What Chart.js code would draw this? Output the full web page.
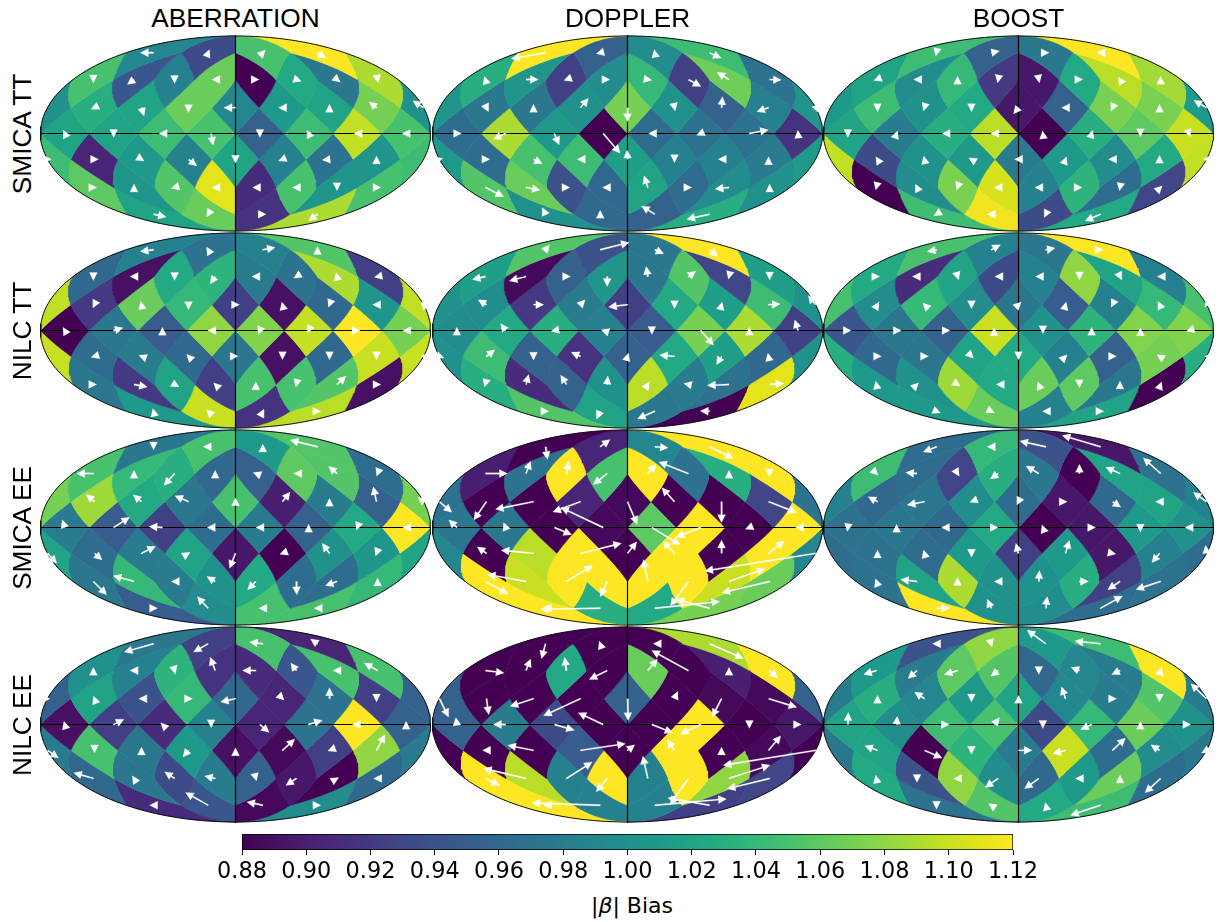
<!DOCTYPE html>
<html><head><meta charset="utf-8">
<script src="https://cdn.jsdelivr.net/npm/chart.js@4"></script>
<style>
html,body{margin:0;padding:0;background:#fff;width:1225px;height:922px;overflow:hidden}
canvas{position:absolute}
.t{position:absolute;font-family:"Liberation Sans",Arial,sans-serif;font-size:26.2px;color:#000;white-space:nowrap;transform:translate(-50%,-50%);line-height:1}
.r{transform:translate(-50%,-50%) rotate(-90deg)}
.c{font-family:"DejaVu Sans",sans-serif;font-size:22px}
</style></head><body>
<script>
const COLUMN_TITLES=["ABERRATION","DOPPLER","BOOST"];
const ROW_TITLES=["SMICA TT","NILC TT","SMICA EE","NILC EE"];
const COLORBAR_TICKS=[0.88,0.90,0.92,0.94,0.96,0.98,1.00,1.02,1.04,1.06,1.08,1.10,1.12];
const COLORBAR_LABEL="|β| Bias";

// Bias per HEALPix (nside 2) pixel, ring by ring, left to right: 4,8,8,8,8,8,4
const SMICA_TT_ABERRATION=[.99,.935,1.05,1.12,
1.05,.945,.985,1.065,.88,1.025,.975,1.09,
1.03,1.02,1.065,.99,1.01,1.02,1.07,1.0,
1.02,1.02,1.045,1.05,.955,1.045,1.097,1.05,
.905,1.01,.985,1.02,.985,.97,1.005,1.045,
1.06,1.005,1.055,1.11,.91,1.05,1.005,1.05,
1.02,1.065,.915,1.09];
const SMICA_TT_DOPPLER=[1.12,.955,.995,1.045,
1.03,1.005,.925,.995,1.04,.925,1.067,.97,
.975,.975,1.0,1.07,1.0,.955,.985,1.005,
.965,1.09,1.01,.88,.965,.97,.97,.915,
.965,1.05,1.045,1.015,.985,.985,.98,1.01,
1.055,1.065,.94,.96,1.02,.965,.995,1.0,
1.0,.96,.955,1.03];
const SMICA_TT_BOOST=[1.045,.955,.975,1.12,
1.02,.995,1.04,.92,.895,1.025,1.095,1.087,
1.045,1.0,1.025,.895,.955,1.072,1.072,1.01,
1.02,.98,1.03,1.095,.88,1.03,1.06,1.10,
.935,1.0,1.01,.98,1.01,.995,1.025,1.097,
.88,.995,1.072,1.105,.985,1.035,.965,.93,
1.045,1.115,.935,1.025];
const NILC_TT_ABERRATION=[.985,.97,.985,1.055,
.96,.89,1.025,1.035,.98,.97,1.09,.925,
.92,1.065,1.04,.925,.89,.96,1.005,1.097,
.88,.975,.95,1.08,1.075,1.098,1.12,1.07,
.965,.98,.96,.975,.89,.96,1.10,1.10,
.975,.92,1.02,.925,1.05,1.05,1.055,.89,
1.01,1.10,.915,1.095];
const NILC_TT_DOPPLER=[1.055,.94,.975,1.12,
1.015,.885,.955,1.005,.975,1.055,.93,1.015,
.995,.92,.98,.925,1.025,1.015,1.045,1.0,
.995,1.025,1.03,.985,.95,1.07,1.09,.925,
1.045,.955,.915,.955,1.025,1.015,.96,1.0,
1.03,.91,.955,1.0,1.095,.98,.97,1.11,
1.055,1.02,.975,.88];
const NILC_TT_BOOST=[1.05,.985,.975,1.12,
1.025,.91,1.02,.935,.985,1.08,1.02,.985,
.995,1.04,.995,.975,.95,.985,1.04,1.05,
.945,.975,.955,1.10,1.0,1.035,1.075,1.075,
.96,.975,1.02,1.025,.985,.955,1.07,1.03,
1.01,1.0,1.085,1.025,1.065,1.06,.975,.88,
1.01,1.065,.985,1.02];
const SMICA_EE_ABERRATION=[.975,1.05,1.01,1.055,
1.05,1.04,1.03,.96,.955,1.06,1.055,.965,
1.085,1.025,.975,1.05,.9,.98,.955,1.07,
.98,.95,.925,.965,.98,.955,1.025,1.12,
.965,.98,1.02,.895,.88,1.0,1.005,1.02,
.975,1.04,.98,1.0,1.025,.965,.965,1.04,
.95,.995,1.05,1.05];
const SMICA_EE_DOPPLER=[.88,.905,.99,1.12,
.9,.97,1.12,1.05,1.12,.97,1.03,1.12,
.88,.88,.905,.885,.88,.88,.93,.97,
.975,.975,.88,.885,1.06,1.12,.88,1.12,
.88,1.095,1.12,.88,1.12,.88,1.12,.99,
1.12,1.10,1.12,1.12,1.12,1.12,1.10,1.065,
1.12,1.03,1.025,1.07];
const SMICA_EE_BOOST=[.965,1.04,.94,.895,
1.045,.965,.93,1.03,.975,.88,1.02,.97,
.96,.975,.995,.965,.895,.96,1.02,.985,
.97,.975,.96,1.025,.88,.895,1.01,1.0,
.97,.965,1.01,.925,1.01,.895,.985,.965,
.97,1.02,1.09,1.0,1.0,1.03,.925,.97,
1.12,1.0,.995,.965];
const NILC_EE_ABERRATION=[.975,.925,1.05,.905,
1.0,.985,1.035,.915,.91,.945,1.05,1.05,
1.02,.94,1.04,.96,.905,.97,.925,.955,
.89,.925,.91,.985,.905,.97,1.12,.955,
1.05,.975,1.01,.89,.885,.925,1.08,.98,
.96,.975,.935,.98,.955,.895,.88,.96,
.91,.945,.885,.995];
const NILC_EE_DOPPLER=[.88,.88,.88,1.09,
.88,.88,1.025,.88,1.065,.88,.9,1.12,
.88,.88,.88,.955,.88,.885,.885,.955,
.955,.98,.935,.88,.88,1.12,.88,.895,
.88,.88,.95,.88,1.12,.88,.885,.88,
1.12,1.095,.985,1.12,.985,1.12,1.08,.93,
1.12,.985,.985,.925];
const NILC_EE_BOOST=[.94,1.08,1.01,1.045,
1.01,.98,1.06,1.055,.96,.99,.98,1.12,
1.03,.99,1.01,1.02,.99,.98,1.055,.98,
1.02,.995,1.045,1.05,.935,1.04,1.065,1.0,
1.02,.88,1.035,.98,1.10,.965,.995,.975,
1.025,.94,1.08,.995,.96,1.01,1.065,.965,
.97,1.055,1.025,1.045];

// Arrow vectors per pixel (right, down), same pixel order
const SMICA_TT_ABERRATION_ARROWS=[[-40,0],[4,-10],[8,-8],[25,17],
[0,10],[-20,15],[0,12],[-10,0],[10,0],[15,5],[10,8],[2,10],
[-10,5],[8,25],[0,15],[-35,0],[-12,0],[0,-10],[-22,-18],[-32,-21],
[-5,-10],[0,12],[-10,0],[6,35],[0,12],[-5,-10],[-10,0],[-12,0],
[12,0],[8,5],[25,20],[0,12],[-12,5],[-22,2],[0,-10],[12,0],
[10,0],[0,-10],[-10,3],[-10,0],[-10,0],[-12,0],[0,10],[10,0],
[38,8],[-5,8],[10,0],[-27,20]];
const SMICA_TT_DOPPLER_ARROWS=[[-103,18],[-12,3],[-2,-10],[35,16],
[-3,-10],[37,0],[-8,3],[8,0],[12,2],[38,21],[-36,-22],[35,1],
[6,12],[0,-10],[24,-28],[0,42],[2,10],[3,-33],[-35,12],[-12,-3],
[14,0],[-37,17],[14,34],[51,59],[-10,0],[-12,5],[57,-11],[-1,-10],
[10,0],[27,13],[-10,0],[-1,-28],[0,10],[-10,0],[0,-8],[10,-3],
[55,28],[42,8],[10,0],[-14,0],[-11,-35],[10,0],[-42,5],[0,-10],
[-10,-20],[0,-12],[-40,-25],[-68,15]];
const SMICA_TT_BOOST_ARROWS=[[-2,10],[25,-5],[10,0],[-10,0],
[-8,3],[-10,0],[0,-10],[-2,10],[2,10],[10,0],[-5,-8],[0,-10],
[0,12],[-3,10],[0,12],[-15,19],[-12,0],[-5,10],[0,-10],[-38,-22],
[0,12],[3,-8],[-10,0],[-10,0],[-1,-8],[3,-10],[0,10],[4,10],
[-5,-8],[-2,-10],[-8,-5],[-12,0],[3,-8],[-12,0],[0,-12],[-10,0],
[-2,8],[-5,-10],[-3,8],[-12,0],[-12,0],[8,0],[-2,10],[5,-5],
[-8,5],[-12,0],[-5,10],[-46,20]];
const NILC_TT_ABERRATION_ARROWS=[[-40,5],[-5,-8],[37,-7],[0,-10],
[0,12],[-12,0],[0,12],[-15,22],[-12,0],[-8,5],[-3,-12],[-10,2],
[-5,10],[-2,-10],[0,15],[12,0],[-2,-8],[-3,8],[-12,0],[-8,-8],
[-6,-10],[28,-8],[0,-10],[-10,0],[-5,12],[-4,8],[8,0],[-10,0],
[-10,3],[-8,-3],[-6,-6],[8,0],[0,10],[0,10],[0,10],[-8,0],
[10,0],[40,8],[14,8],[-5,-5],[0,-8],[-2,8],[27,-25],[10,0],
[-2,-8],[-5,-5],[3,-6],[10,0]];
const NILC_TT_DOPPLER_ARROWS=[[12,-15],[87,-22],[27,12],[25,20],
[-39,9],[-50,13],[12,0],[0,30],[-5,-30],[22,-16],[-2,8],[0,10],
[-25,-15],[31,0],[14,-15],[-57,7],[0,12],[2,-8],[35,-2],[-22,-28],
[0,-10],[-15,-21],[-10,2],[-6,-2],[0,12],[39,44],[0,-10],[-10,-32],
[25,-20],[0,12],[-28,-12],[3,-10],[-45,-4],[-15,25],[-2,-10],[14,5],
[-2,8],[8,-30],[-18,-28],[2,-25],[5,-8],[-14,-3],[-65,3],[43,-3],
[10,0],[-10,23],[-52,23],[-28,-1]];
const NILC_TT_BOOST_ARROWS=[[-28,6],[28,-15],[28,-5],[8,0],
[10,0],[-14,0],[3,10],[-10,0],[-10,0],[0,10],[5,10],[-10,0],
[5,-8],[-5,-5],[0,12],[8,-8],[2,-8],[-4,8],[-5,-10],[-5,8],
[10,0],[14,0],[14,0],[0,-8],[0,10],[0,-10],[0,-8],[-8,3],
[12,0],[12,0],[6,6],[0,10],[5,-5],[12,0],[-8,-5],[-5,0],
[-2,-10],[5,-5],[8,5],[-6,0],[-3,-8],[0,10],[0,-10],[3,-8],
[12,5],[10,5],[-10,0],[10,0]];
const SMICA_EE_ABERRATION_ARROWS=[[0,10],[-15,0],[0,-8],[-82,-20],
[-50,0],[0,-10],[-32,36],[0,-10],[-8,-3],[-8,0],[-25,-22],[-3,8],
[-25,-22],[-25,-21],[-41,-18],[0,-12],[23,-29],[0,-10],[-10,-45],[-17,-13],
[-8,-23],[48,-31],[-40,-3],[-12,0],[-12,0],[0,-10],[-3,8],[-10,0],
[23,20],[42,-21],[5,-3],[-18,45],[-8,3],[-22,-30],[-3,8],[28,30],
[40,40],[-62,-17],[-10,0],[-25,-15],[-25,25],[1,40],[-35,13],[0,-10],
[12,0],[-33,-35],[-12,0],[-10,0]];
const SMICA_EE_DOPPLER_ARROWS=[[6,38],[30,-22],[40,3],[72,35],
[66,0],[14,-37],[6,-37],[-42,33],[25,-28],[-89,-35],[0,-10],[0,10],
[-38,55],[-114,23],[-83,31],[29,68],[-38,-42],[0,63],[85,33],[37,32],
[-24,-23],[-6,-15],[52,22],[-127,-60],[85,52],[-74,29],[-12,5],[-8,0],
[-28,-20],[-97,-9],[123,-30],[28,-35],[-35,-37],[0,-40],[47,-37],[-332,53],
[68,38],[-116,-21],[78,-48],[-21,46],[-13,-66],[-54,74],[108,-38],[-143,34],
[-6,0],[-179,3],[195,-20],[-100,-27]];
const SMICA_EE_BOOST_ARROWS=[[-40,16],[-12,0],[-78,-17],[-115,-34],
[5,5],[-34,-3],[5,8],[-24,16],[-38,-23],[0,-28],[-43,-19],[-52,-47],
[-28,-15],[-52,10],[-5,2],[-5,10],[5,0],[25,17],[-12,0],[-40,-28],
[-2,12],[0,-10],[-12,0],[12,0],[-3,-8],[12,0],[0,14],[-12,0],
[0,-10],[-3,-10],[0,12],[-8,-30],[12,-39],[10,2],[-23,28],[-3,-24],
[-3,-8],[-49,-6],[0,-12],[-12,0],[2,-33],[27,0],[-37,25],[-74,24],
[40,-1],[-12,-27],[4,-35],[66,-37]];
const NILC_EE_ABERRATION_ARROWS=[[-88,25],[-44,25],[-40,-5],[-21,-14],
[0,-10],[-12,0],[3,10],[-15,-40],[-40,0],[-17,-23],[-12,0],[-40,-23],
[-3,-8],[-8,0],[12,0],[-45,10],[5,5],[0,-33],[0,10],[8,0],
[-3,-10],[31,-16],[-5,-5],[0,10],[28,24],[41,-13],[-15,0],[0,-10],
[0,8],[0,-10],[-17,20],[0,-8],[37,-34],[-5,2],[25,-47],[33,23],
[-59,-17],[-5,-8],[-30,-20],[-32,-7],[2,8],[-32,21],[5,-3],[-12,0],
[-12,0],[-68,-38],[-48,-10],[10,0]];
const NILC_EE_DOPPLER_ARROWS=[[-12,45],[-3,-8],[-5,0],[102,44],
[56,7],[14,-35],[-6,-40],[-54,27],[29,-35],[-110,-60],[0,-10],[24,22],
[7,48],[-70,23],[-111,51],[2,66],[10,-22],[-28,55],[85,26],[27,55],
[-3,-21],[-37,0],[60,17],[-75,-35],[63,25],[-61,29],[0,12],[10,0],
[-12,0],[-77,-15],[135,-20],[22,-17],[-22,-32],[0,-10],[37,-44],[-277,45],
[43,21],[-127,-30],[77,-49],[-33,40],[-15,-67],[-55,78],[123,-40],[-127,31],
[-6,0],[-205,-7],[215,-19],[-125,-22]];
const NILC_EE_BOOST_ARROWS=[[-12,0],[3,10],[-56,-41],[-77,-8],
[-38,12],[-27,24],[-40,12],[-22,17],[0,12],[-25,-10],[-25,12],[3,-10],
[0,-10],[-30,-20],[0,10],[0,-10],[-12,-36],[12,0],[0,10],[-47,-45],
[1,-36],[2,-25],[12,0],[16,-21],[0,12],[-33,15],[0,-10],[5,0],
[-38,-14],[53,23],[0,12],[41,0],[-38,10],[39,-37],[-26,-17],[-15,8],
[-2,-10],[0,12],[-12,0],[-39,27],[-43,31],[-12,0],[0,-10],[-47,43],
[0,12],[-8,-5],[-2,-8],[-90,30]];

const PANELS=[
[SMICA_TT_ABERRATION,SMICA_TT_ABERRATION_ARROWS],[SMICA_TT_DOPPLER,SMICA_TT_DOPPLER_ARROWS],[SMICA_TT_BOOST,SMICA_TT_BOOST_ARROWS],
[NILC_TT_ABERRATION,NILC_TT_ABERRATION_ARROWS],[NILC_TT_DOPPLER,NILC_TT_DOPPLER_ARROWS],[NILC_TT_BOOST,NILC_TT_BOOST_ARROWS],
[SMICA_EE_ABERRATION,SMICA_EE_ABERRATION_ARROWS],[SMICA_EE_DOPPLER,SMICA_EE_DOPPLER_ARROWS],[SMICA_EE_BOOST,SMICA_EE_BOOST_ARROWS],
[NILC_EE_ABERRATION,NILC_EE_ABERRATION_ARROWS],[NILC_EE_DOPPLER,NILC_EE_DOPPLER_ARROWS],[NILC_EE_BOOST,NILC_EE_BOOST_ARROWS]];

const VIRIDIS=["#440154","#471365","#482475","#463480","#414487","#3b528b","#355f8d","#2f6c8e","#2a788e","#25848e","#21918c","#1e9c89","#22a884","#2fb47c","#44bf70","#5ec962","#7ad151","#9bd93c","#bddf26","#dfe318","#fde725"];
const VMIN=0.88,VMAX=1.12;
function hex(c){return [1,3,5].map(i=>parseInt(c.substr(i,2),16));}
function cmap(v){
  let t=(v-VMIN)/(VMAX-VMIN); t=Math.max(0,Math.min(1,t))*(VIRIDIS.length-1);
  const i=Math.min(Math.floor(t),VIRIDIS.length-2),f=t-i,a=hex(VIRIDIS[i]),b=hex(VIRIDIS[i+1]);
  return `rgb(${a.map((x,k)=>Math.round(x+(b[k]-x)*f)).join(",")})`;
}

// HEALPix plane -> Mollweide
const PI=Math.PI,D=PI/8,S2=Math.SQRT2;
function mollweide(lon,z){
  let th;
  if(Math.abs(z)>=1) th=Math.sign(z)*PI/2;
  else{ th=Math.asin(z); const k=PI*z;
    for(let i=0;i<60;i++){const f=2*th+Math.sin(2*th)-k,d=2+2*Math.cos(2*th); if(Math.abs(d)<1e-9)break; th-=f/d; if(Math.abs(f)<1e-10)break;}
  }
  return {x:2*S2/PI*lon*Math.cos(th),y:S2*Math.sin(th)};
}
function planeToMap(x,y,xc){
  if(Math.abs(y)<=PI/4) return mollweide(x,8*y/(3*PI));
  const s=2-4*Math.abs(y)/PI;
  const lon=s<1e-9?xc:xc+(x-xc)/s;
  return mollweide(lon,Math.sign(y)*(1-s*s/3));
}
function facet(cx){return -PI+PI/4+Math.floor((cx+PI)/(PI/2))*(PI/2);}
function trace(verts,xc){
  const out=[],n=14;
  for(let i=0;i<verts.length;i++){
    const a=verts[i],b=verts[(i+1)%verts.length];
    for(let k=0;k<n;k++){const f=k/n;out.push(planeToMap(a[0]+(b[0]-a[0])*f,a[1]+(b[1]-a[1])*f,xc));}
  }
  out.push(out[0]);
  return out;
}
function layoutPixels(){
  const px=[];
  const rings=[[3,[-3,-1,1,3].map(k=>k*PI/4)],
    [2,[-7,-5,-3,-1,1,3,5,7].map(k=>k*PI/8)],
    [1,[-3,-2,-1,0,1,2,3,4].map(k=>k*PI/4)],
    [0,[-7,-5,-3,-1,1,3,5,7].map(k=>k*PI/8)],
    [-1,[-3,-2,-1,0,1,2,3,4].map(k=>k*PI/4)],
    [-2,[-7,-5,-3,-1,1,3,5,7].map(k=>k*PI/8)],
    [-3,[-3,-1,1,3].map(k=>k*PI/4)]];
  for(const [r,xs] of rings) for(const cx of xs) px.push({cx,cy:r*D});
  return px;
}
const PIXELS=layoutPixels();
function cellPolys(p){
  const {cx,cy}=p;
  if(Math.abs(cx-PI)<1e-9){
    return [[[PI,cy+D],[PI,cy-D],[PI-D,cy]],[[-PI,cy+D],[-PI+D,cy],[-PI,cy-D]]].map(v=>trace(v,0));
  }
  return [trace([[cx,cy+D],[cx+D,cy],[cx,cy-D],[cx-D,cy]],facet(cx))];
}
const RX=195,RY=97.5,CW=198,CH=100;
const DPP=S2/RY;               // data units per screen pixel
const VEC=DPP/3;               // arrow vector unit
const HEAD=8*DPP,HW=4*DPP,SW=0.7*DPP;
function arrowPoly(p,a){
  let t;
  if(Math.abs(p.cx-PI)<1e-9) t=planeToMap(a[0]>=0?-PI:PI,p.cy,0);
  else t=planeToMap(p.cx,p.cy,facet(p.cx));
  const dx=a[0]*VEC,dy=-a[1]*VEC,L=Math.hypot(dx,dy)||1,ux=dx/L,uy=dy/L,nx=-uy,ny=ux;
  const tip={x:t.x+dx,y:t.y+dy},bx=tip.x-ux*HEAD,by=tip.y-uy*HEAD;
  const o=(x,y,s)=>({x:x+nx*s,y:y+ny*s});
  if(L<=HEAD) return [o(bx,by,HW),tip,o(bx,by,-HW),o(bx,by,HW)];
  return [o(t.x,t.y,SW),o(bx,by,SW),o(bx,by,HW),tip,o(bx,by,-HW),o(bx,by,-SW),o(t.x,t.y,-SW),o(t.x,t.y,SW)];
}
const ellipseClip={id:'ellipseClip',
  beforeDatasetsDraw(c){const x=c.scales.x,y=c.scales.y,g=c.ctx;g.save();g.beginPath();
    g.ellipse(x.getPixelForValue(0),y.getPixelForValue(0),RX+1.5,RY+1.5,0,0,2*PI);g.clip();},
  afterDatasetsDraw(c){c.ctx.restore();}};
const COLX=[235,627,1018],ROWY=[133,330,527,724];
const outline=[];for(let i=0;i<=180;i++){const a=i/180*2*PI;outline.push({x:2*S2*Math.cos(a),y:S2*Math.sin(a)});}

PANELS.forEach(([vals,arrows],idx)=>{
  const cv=document.createElement('canvas');
  cv.width=CW*2;cv.height=CH*2;
  cv.style.left=(COLX[idx%3]-CW)+'px';cv.style.top=(ROWY[Math.floor(idx/3)]-CH)+'px';
  document.body.appendChild(cv);
  const ds=[];
  PIXELS.forEach((p,i)=>{
    const col=cmap(vals[i]);
    cellPolys(p).forEach(poly=>ds.push({data:poly,borderColor:col,backgroundColor:col,borderWidth:0.6,fill:'shape',pointRadius:0,tension:0,order:4}));
  });
  ds.push({data:outline,borderColor:'#111',borderWidth:1,fill:false,pointRadius:0,order:3});
  ds.push({data:[{x:-2*S2,y:0},{x:2*S2,y:0}],borderColor:'#000',borderWidth:1.2,fill:false,pointRadius:0,order:2});
  ds.push({data:[{x:0,y:-S2-DPP},{x:0,y:S2+DPP}],borderColor:'#000',borderWidth:1.2,fill:false,pointRadius:0,order:2});
  PIXELS.forEach((p,i)=>{
    ds.push({data:arrowPoly(p,arrows[i]),borderColor:'#fff',backgroundColor:'#fff',borderWidth:0.2,fill:'shape',pointRadius:0,tension:0,order:1});
  });
  new Chart(cv,{type:'line',data:{datasets:ds},plugins:[ellipseClip],options:{
    responsive:false,animation:false,devicePixelRatio:1,events:[],
    layout:{padding:0},
    plugins:{legend:{display:false},tooltip:{enabled:false},title:{display:false}},
    elements:{line:{capBezierPoints:false}},
    scales:{
      x:{type:'linear',display:false,min:-(CW+0.5)*DPP,max:(CW-0.5)*DPP},
      y:{type:'linear',display:false,min:-(CH-0.5)*DPP,max:(CH+0.5)*DPP}}
  }});
});

// Colour bar
const cb=document.createElement('canvas');
const CBL=242,CBR=1013,CBT=834,CBH=16,PADX=70,PADT=8,AXISH=42;
cb.width=CBR-CBL+2*PADX;cb.height=PADT+CBH+AXISH;
cb.style.left=(CBL-PADX)+'px';cb.style.top=(CBT-PADT)+'px';
document.body.appendChild(cb);
new Chart(cb,{type:'bar',data:{labels:['bias'],datasets:[{
    data:[[VMIN,VMAX]],barPercentage:1,categoryPercentage:1,borderColor:'#000',borderWidth:1,borderSkipped:false,
    backgroundColor(ctx){const a=ctx.chart.chartArea;if(!a)return '#000';
      const g=ctx.chart.ctx.createLinearGradient(a.left,0,a.right,0);
      VIRIDIS.forEach((c,i)=>g.addColorStop(i/(VIRIDIS.length-1),c));return g;}
  }]},options:{
  indexAxis:'y',responsive:false,animation:false,devicePixelRatio:1,events:[],
  layout:{padding:{left:PADX,right:PADX,top:PADT,bottom:0}},
  plugins:{legend:{display:false},tooltip:{enabled:false}},
  scales:{
    y:{display:false,grid:{display:false}},
    x:{type:'linear',min:VMIN,max:VMAX,position:'bottom',
      afterBuildTicks(s){s.ticks=COLORBAR_TICKS.map(v=>({value:v}));},
      afterFit(s){s.height=AXISH;},
      grid:{display:true,drawOnChartArea:false,drawTicks:true,tickLength:5,tickColor:'#000',tickWidth:1},
      border:{display:false},
      ticks:{autoSkip:false,maxRotation:0,minRotation:0,padding:4,color:'#000',font:{family:'"DejaVu Sans"',size:22.4},callback:v=>Number(v).toFixed(2)}}
  }}});

function addText(txt,x,y,cls){const d=document.createElement('div');d.className='t '+(cls||'');d.style.left=x+'px';d.style.top=y+'px';d.innerHTML=txt;document.body.appendChild(d);}
COLUMN_TITLES.forEach((t,i)=>addText(t,COLX[i]+0.5,18));
ROW_TITLES.forEach((t,i)=>addText(t,22,ROWY[i]+1,'r'));
addText(COLORBAR_LABEL.replace('β','<i>β</i>'),632,906,'c');
</script>
</body></html>
